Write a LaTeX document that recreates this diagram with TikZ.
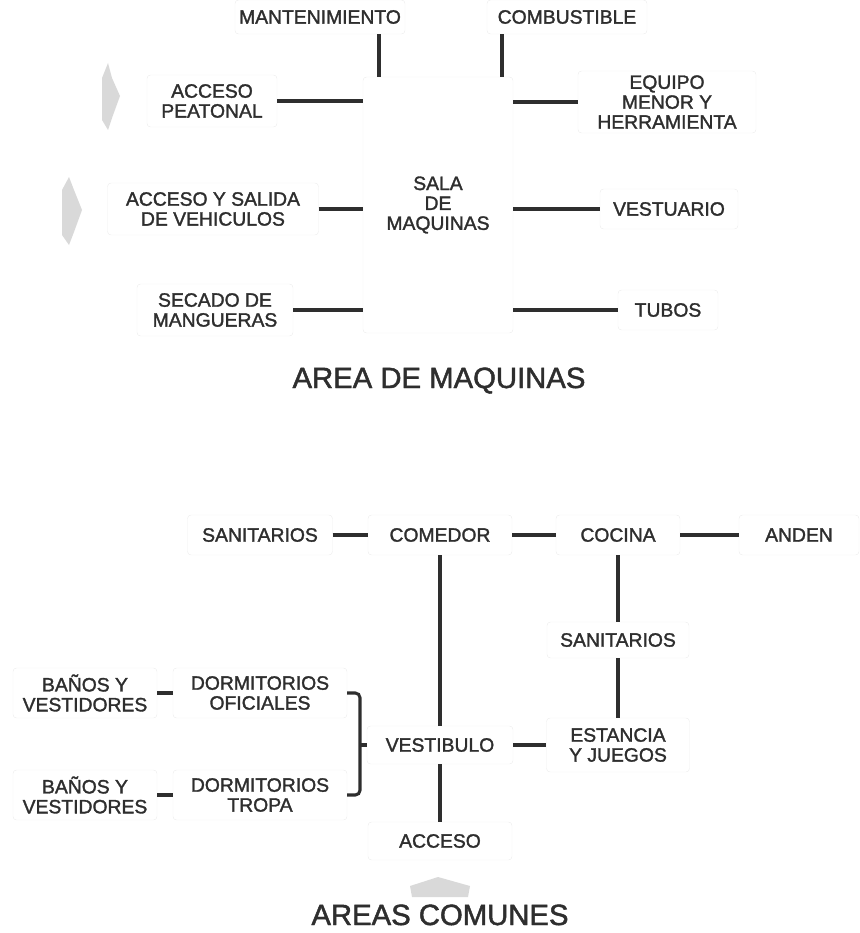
\documentclass[tikz,border=0pt]{standalone}
\usepackage{fontspec}
\setmainfont{Liberation Sans}
\newfontfamily\cellfont{Liberation Sans}[FakeBold=1.6]
\begin{document}
\begin{tikzpicture}[x=0.3mm,y=-0.3mm,
    cell/.style={draw=black!7,rounded corners=3pt,align=center,text=black!82,
      font=\cellfont\fontsize{16.5}{17}\selectfont,inner sep=0pt,minimum height=12mm},
    link/.style={draw=black!82,line width=2.6pt},
    hint/.style={fill=black!15,draw=none},
    title/.style={text=black!82,font=\cellfont\fontsize{25}{28}\selectfont,anchor=base}]
  \useasboundingbox (0,0) rectangle (860,933);
  % area de maquinas
  \node[cell,minimum width=51mm,minimum height=10.2mm] (mant) at (320,17) {MANTENIMIENTO};
  \node[cell,minimum width=48mm,minimum height=10.2mm] (comb) at (567,17) {COMBUSTIBLE};
  \node[cell,minimum width=45mm,minimum height=76.8mm] (sala) at (438,205) {SALA\\DE\\MAQUINAS};
  \node[cell,minimum width=39mm,minimum height=15.6mm] (peat) at (212,101) {ACCESO\\PEATONAL};
  \node[cell,minimum width=63.3mm,minimum height=15.6mm] (vehi) at (213,209) {ACCESO Y SALIDA\\DE VEHICULOS};
  \node[cell,minimum width=46.8mm,minimum height=15.6mm] (seca) at (215,310) {SECADO DE\\MANGUERAS};
  \node[cell,minimum width=53.4mm,minimum height=18.6mm] (equi) at (667,102) {EQUIPO\\MENOR Y\\HERRAMIENTA};
  \node[cell,minimum width=41.4mm] (vest) at (669,209) {VESTUARIO};
  \node[cell,minimum width=30mm] (tubo) at (668,310) {TUBOS};
  \coordinate (mt) at (379,0);
  \coordinate (cb) at (502,0);
  \draw[link] (mt |- mant.south) -- (mt |- sala.north);
  \draw[link] (cb |- comb.south) -- (cb |- sala.north);
  \foreach \n in {peat,vehi,seca}
    \draw[link] (\n.east) -- (\n.east -| sala.west);
  \foreach \n in {equi,vest,tubo}
    \draw[link] (\n.west) -- (\n.west -| sala.east);
  \fill[hint] (102,78) -- (108,63) -- (112,78) -- (120,96) -- (112,118) -- (108,130) -- (102,120) -- cycle;
  \fill[hint] (62,190) -- (69,177) -- (74,190) -- (82,210) -- (74,232) -- (69,245) -- (62,235) -- cycle;
  \node[title] (tmaq) at (439,388) {AREA DE MAQUINAS};
  % areas comunes
  \node[cell,minimum width=43.5mm] (san1) at (260,535) {SANITARIOS};
  \node[cell,minimum width=43.2mm] (come) at (440,535) {COMEDOR};
  \node[cell,minimum width=37.2mm] (coci) at (618,535) {COCINA};
  \node[cell,minimum width=36mm] (ande) at (799,535) {ANDEN};
  \node[cell,minimum width=42.6mm,minimum height=10.8mm] (san2) at (618,640) {SANITARIOS};
  \node[cell,minimum width=42.9mm,minimum height=16.2mm] (esta) at (618,745) {ESTANCIA\\Y JUEGOS};
  \node[cell,minimum width=43.8mm,minimum height=11.4mm] (vesb) at (440,745) {VESTIBULO};
  \node[cell,minimum width=43.2mm,minimum height=11.4mm] (acce) at (440,841) {ACCESO};
  \node[cell,minimum width=43.2mm,minimum height=15mm] (ba1) at (85,693) {BAÑOS Y\\VESTIDORES};
  \node[cell,minimum width=52.2mm,minimum height=15mm] (dof) at (260,693) {DORMITORIOS\\OFICIALES};
  \node[cell,minimum width=43.2mm,minimum height=15mm] (ba2) at (85,795) {BAÑOS Y\\VESTIDORES};
  \node[cell,minimum width=52.2mm,minimum height=15mm] (dtr) at (260,795) {DORMITORIOS\\TROPA};
  \draw[link] (san1) -- (come);
  \draw[link] (come) -- (coci);
  \draw[link] (coci) -- (ande);
  \draw[link] (come) -- (vesb);
  \draw[link] (vesb) -- (acce);
  \draw[link] (coci) -- (san2);
  \draw[link] (san2) -- (esta);
  \draw[link] (vesb) -- (esta);
  \draw[link] (ba1) -- (dof);
  \draw[link] (ba2) -- (dtr);
  \coordinate (brk) at (360,0);
  \draw[link,rounded corners=4pt] (dof.east) -| (brk |- vesb) |- (dtr.east);
  \draw[link] (brk |- vesb) -- (vesb.west);
  \fill[hint] (410,886) -- (438,877) -- (470,886) -- (468,897) -- (412,897) -- cycle;
  \node[title] (tcom) at (440,925) {AREAS COMUNES};
\end{tikzpicture}
\end{document}
